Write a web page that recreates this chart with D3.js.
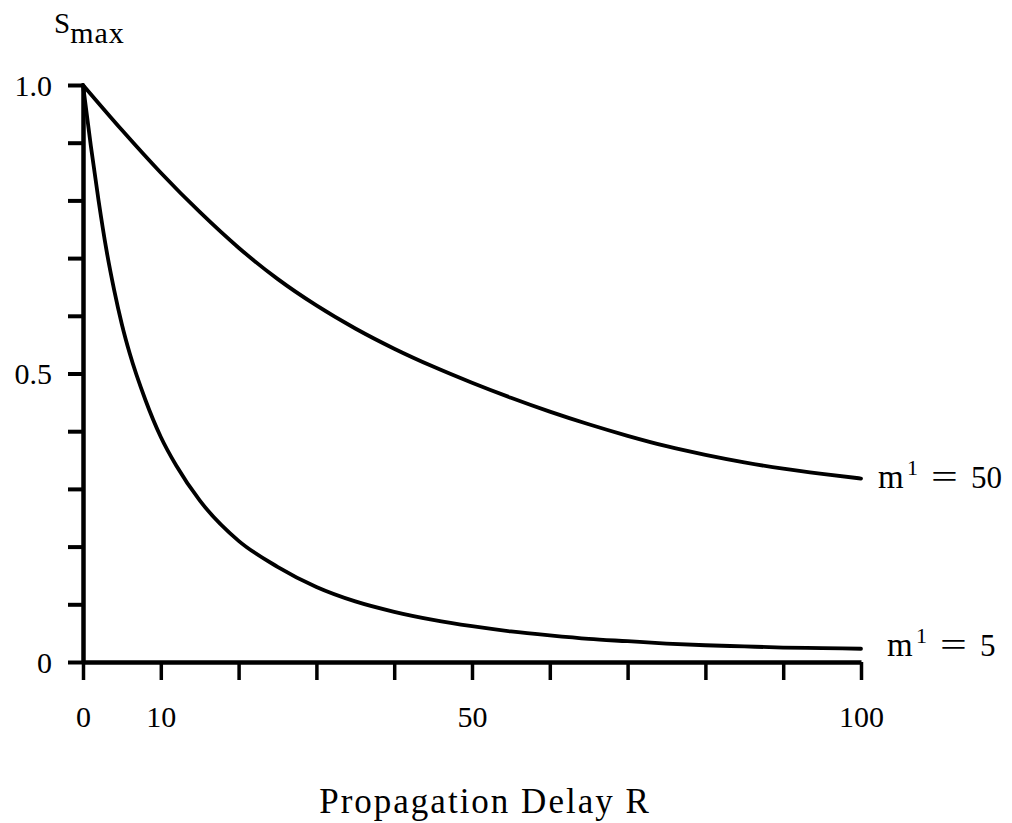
<!DOCTYPE html>
<html>
<head>
<meta charset="utf-8">
<script src="https://cdn.jsdelivr.net/npm/d3@7"></script>
<style>
  html, body { margin: 0; padding: 0; background: #fff; }
  svg { display: block; }
  text { font-family: "Liberation Serif", "DejaVu Serif", serif; fill: #000; }
</style>
</head>
<body>
<svg id="chart" width="1012" height="823"></svg>
<script>
// ---- data ----
const delayR5  = [0, 1, 2, 3, 4, 5, 6, 8, 10, 12, 15, 20, 25, 30, 35, 40, 45, 50, 55, 60, 65, 70, 75, 80, 85, 90, 95, 100];
const smaxM5   = [1.0, 0.895, 0.80, 0.715, 0.645, 0.585, 0.535, 0.455, 0.39, 0.34, 0.28, 0.21, 0.165, 0.13, 0.105, 0.087, 0.073, 0.062, 0.053, 0.046, 0.040, 0.036, 0.032, 0.029, 0.027, 0.025, 0.024, 0.023];
const delayR50 = [0, 5, 10, 15, 20, 25, 30, 35, 40, 45, 50, 55, 60, 65, 70, 75, 80, 85, 90, 95, 100];
const smaxM50  = [1.0, 0.922, 0.848, 0.780, 0.718, 0.664, 0.618, 0.578, 0.543, 0.512, 0.484, 0.458, 0.434, 0.412, 0.392, 0.374, 0.359, 0.346, 0.335, 0.326, 0.318];
const seriesNames = ["5", "50"];
const xTickValues = [0, 10, 20, 30, 40, 50, 60, 70, 80, 90, 100];
const xTickLabels = {0: "0", 10: "10", 50: "50", 100: "100"};
const yTickValues = [0, 0.1, 0.2, 0.3, 0.4, 0.5, 0.6, 0.7, 0.8, 0.9, 1.0];
const yTickLabels = {0: "0", 0.5: "0.5", 1: "1.0"};
const xTitle = "Propagation Delay R";

// ---- layout ----
const svg = d3.select("#chart");
const x = d3.scaleLinear().domain([0, 100]).range([83, 861]);
const y = d3.scaleLinear().domain([0, 1]).range([662, 85]);

// y axis
const yAxis = d3.axisLeft(y)
  .tickValues(yTickValues)
  .tickSize(15)
  .tickSizeOuter(0)
  .tickPadding(16)
  .tickFormat(d => yTickLabels[Math.round(d * 10) / 10] || "");
const gy = svg.append("g").attr("transform", `translate(${x(0)},0)`).call(yAxis);
gy.select(".domain").attr("stroke", "#000").attr("stroke-width", 4.5);
gy.selectAll(".tick line").attr("stroke", "#000").attr("stroke-width", 4);
gy.selectAll(".tick text").attr("font-size", 30).attr("dy", "0.34em")
  .style("font-family", "'Liberation Serif', serif");

// x axis
const xAxis = d3.axisBottom(x)
  .tickValues(xTickValues)
  .tickSize(18)
  .tickSizeOuter(0)
  .tickFormat(d => xTickLabels[d] || "");
const gx = svg.append("g").attr("transform", `translate(0,${y(0)})`).call(xAxis);
gx.select(".domain").attr("stroke", "#000").attr("stroke-width", 4.5);
gx.selectAll(".tick line").attr("stroke", "#000").attr("stroke-width", 3.5);
gx.selectAll(".tick text").attr("font-size", 30).attr("y", 65).attr("dy", 0)
  .style("font-family", "'Liberation Serif', serif");

// curves
const allSeries = [
  {xs: delayR5, ys: smaxM5},
  {xs: delayR50, ys: smaxM50}
];
const line = d3.line()
  .x(d => x(d[0]))
  .y(d => y(d[1]))
  .curve(d3.curveMonotoneX);
svg.append("g").selectAll("path.curve")
  .data(allSeries)
  .join("path")
  .attr("class", "curve")
  .attr("d", s => line(s.xs.map((r, i) => [r, s.ys[i]])))
  .attr("fill", "none")
  .attr("stroke", "#000")
  .attr("stroke-width", 3.8)
  .attr("stroke-linecap", "round")
  .attr("stroke-linejoin", "round");

// curve labels  m^1 = N
allSeries.forEach((s, i) => {
  const x0 = x(100) + (i === 0 ? 26 : 17);
  const yb = y(s.ys[s.ys.length - 1]) + (i === 0 ? 7 : 9);
  const g = svg.append("g").attr("transform", `translate(${x0},${yb})`);
  g.append("text").attr("x", 0).attr("y", 0).attr("font-size", 33).text("m");
  g.append("text").attr("x", 29).attr("y", -13).attr("font-size", 22).text("1");
  g.append("text").attr("transform", "translate(53,0) scale(1.4,1)")
    .attr("font-size", 34).text("=");
  g.append("text").attr("x", 93).attr("y", 0).attr("font-size", 31).text(seriesNames[i]);
});

// y label S_max
const yl = svg.append("text").attr("x", 54).attr("y", 33).attr("font-size", 29);
yl.append("tspan").text("S");
yl.append("tspan").attr("dy", 10).attr("font-size", 30).attr("letter-spacing", 1).text("max");

// x title
svg.append("text")
  .attr("x", 485).attr("y", 813)
  .attr("text-anchor", "middle")
  .attr("font-size", 35)
  .attr("letter-spacing", 2)
  .text(xTitle);
</script>
</body>
</html>
